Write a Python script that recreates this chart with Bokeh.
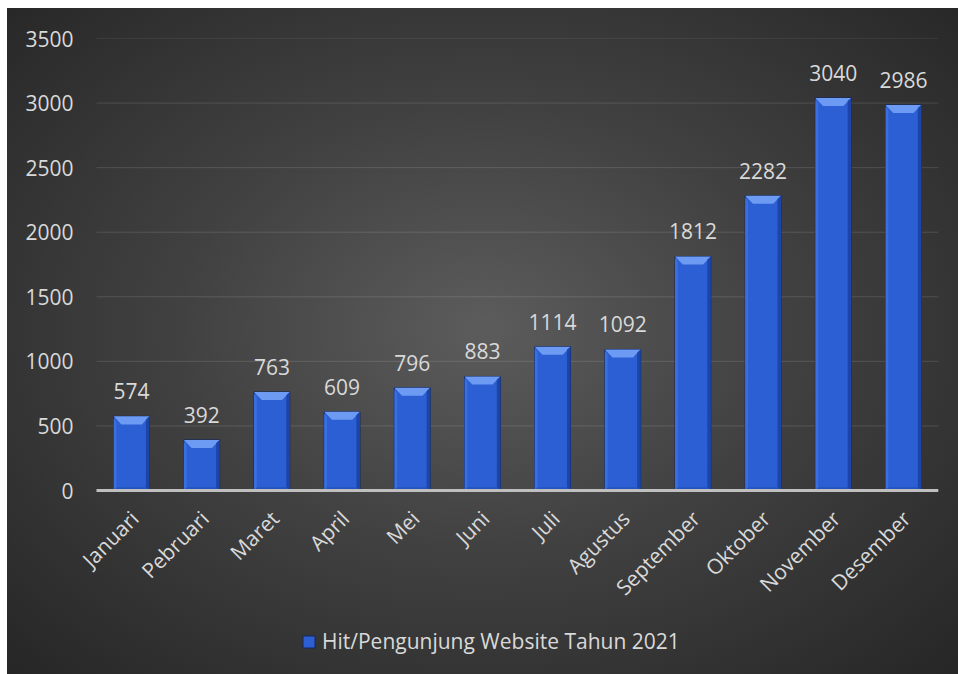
import numpy as np
from bokeh.plotting import figure
from bokeh.models import Range1d, FixedTicker, Legend, LegendItem, ColumnDataSource
from bokeh.core.properties import value
from bokeh.embed import file_html
from bokeh.resources import INLINE

months = ["Januari", "Pebruari", "Maret", "April", "Mei", "Juni", "Juli",
          "Agustus", "September", "Oktober", "November", "Desember"]
visits = [574, 392, 763, 609, 796, 883, 1114, 1092, 1812, 2282, 3040, 2986]
y_ticks = [0, 500, 1000, 1500, 2000, 2500, 3000, 3500]
series_name = "Hit/Pengunjung Website Tahun 2021"

FONT = "Open Sans"
FS = "21px"
TXT = "#d9d9d9"

n = len(months)
# layout: category band 842 px wide, frame begins 16 px further left so
# rotated labels are not clipped; value 0..3500 spans 452 px, 184 px below 0
cat_px = 842 / n
x_pad = 16 / cat_px
px_per_unit = 452 / 3500
y_bottom = -184 / px_per_unit

p = figure(width=951, height=666, output_backend="svg", toolbar_location=None,
           x_range=Range1d(-x_pad, n), y_range=Range1d(y_bottom, 3500),
           x_axis_type=None,
           min_border_left=73, min_border_right=20, min_border_top=30,
           min_border_bottom=0)
p.styles = {
    "margin-left": "7px", "margin-top": "8px",
    "background": "radial-gradient(ellipse farthest-corner at 50% 48%, #5c5c5c 0%, #414141 45%, #262626 100%)",
}
p.background_fill_color = None
p.border_fill_color = None
p.outline_line_color = None

xc = np.arange(n) + 0.5
vals = np.array(visits, dtype=float)
bw = 0.51
dx = 0.11   # bevel inset (x units)
dy = 62.0   # bevel depth (y units)

# horizontal gridlines at the value ticks, over the category band only
p.segment(x0=[0] * len(y_ticks), x1=[n] * len(y_ticks), y0=y_ticks, y1=y_ticks,
          line_color="#ffffff", line_alpha=0.13, line_width=1)

src = ColumnDataSource(dict(x=xc, top=vals, lbl=[str(v) for v in visits]))

bars = p.vbar(x="x", top="top", bottom=0, width=bw, source=src,
              fill_color="#2c5fd3", line_color="#14295f", line_width=1)

# bevel facets
top_xs = [[c - bw / 2, c + bw / 2, c + bw / 2 - dx, c - bw / 2 + dx] for c in xc]
top_ys = [[v, v, v - dy, v - dy] for v in vals]
p.patches(top_xs, top_ys, fill_color="#6d9af2", line_color=None)
right_xs = [[c + bw / 2, c + bw / 2, c + bw / 2 - 0.05, c + bw / 2 - 0.05] for c in xc]
right_ys = [[v, 0, 0, v - dy * 0.4] for v in vals]
p.patches(right_xs, right_ys, fill_color="#1d45a8", line_color=None)
left_xs = [[c - bw / 2, c - bw / 2, c - bw / 2 + 0.04, c - bw / 2 + 0.04] for c in xc]
left_ys = [[v - dy * 0.2, 0, 0, v - dy * 0.7] for v in vals]
p.patches(left_xs, left_ys, fill_color="#3a6fe0", line_color=None)
bot_xs = [[c - bw / 2, c + bw / 2, c + bw / 2 - 0.05, c - bw / 2 + 0.04] for c in xc]
bot_ys = [[0, 0, 25, 25] for c in xc]
p.patches(bot_xs, bot_ys, fill_color="#2553bd", line_color=None)

# category axis line
p.segment(x0=[0], x1=[n], y0=[0], y1=[0], line_color="#bfbfbf", line_width=3)

# value labels
p.text(x="x", y="top", text="lbl", source=src, text_align="center",
       text_baseline="bottom", y_offset=-17, text_color=TXT,
       text_font=value(FONT), text_font_size=FS)

# category labels (rotated 45 degrees, ending under each bar)
p.text(x=xc, y=[0] * n, text=months, angle=np.pi / 4,
       text_align="right", text_baseline="middle", x_offset=3, y_offset=24,
       text_color=TXT, text_font=value(FONT), text_font_size=FS)

# value axis
p.yaxis.ticker = FixedTicker(ticks=y_ticks)
p.yaxis.axis_line_color = None
p.yaxis.major_tick_line_color = None
p.yaxis.major_tick_out = 0
p.yaxis.minor_tick_line_color = None
p.yaxis.minor_tick_out = 0
p.yaxis.major_label_standoff = 7
p.yaxis.major_label_text_color = TXT
p.yaxis.major_label_text_font = FONT
p.yaxis.major_label_text_font_size = FS
p.ygrid.grid_line_color = None

legend = Legend(items=[LegendItem(label=series_name, renderers=[bars])],
                location=(221, 19), orientation="horizontal",
                background_fill_alpha=0, border_line_alpha=0,
                padding=0, margin=0, glyph_width=15, glyph_height=15,
                label_standoff=6, label_text_color=TXT,
                label_text_font=FONT, label_text_font_size=FS)
p.add_layout(legend, "center")

open("out.html", "w").write(file_html(p, INLINE))
